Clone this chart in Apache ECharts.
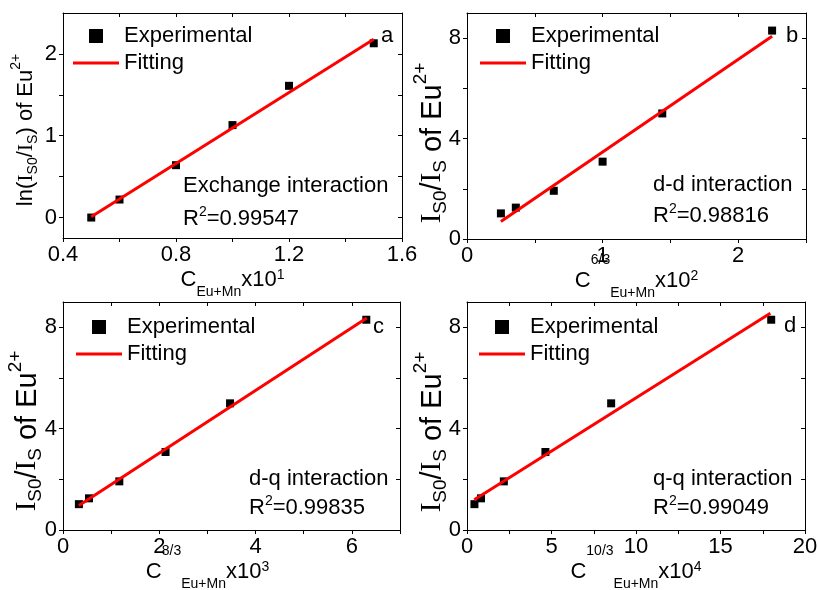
<!DOCTYPE html>
<html>
<head>
<meta charset="utf-8">
<script src="https://cdn.jsdelivr.net/npm/echarts@6/dist/echarts.min.js"></script>
<style>
  html, body { margin: 0; padding: 0; background: #fff; }
  #chart { width: 818px; height: 590px; }
</style>
</head>
<body>
<div id="chart"></div>
<script>
// x values of the experimental points, one list per panel
const concA = [0.5, 0.6, 0.8, 1.0, 1.2, 1.5];
const concB = [0.25, 0.36, 0.64, 1.0, 1.44, 2.25];
const concC = [0.33, 0.54, 1.17, 2.13, 3.47, 6.3];
const concD = [0.44, 0.83, 2.18, 4.64, 8.53, 18.0];
// y values
const lnRatio = [0.0, 0.22, 0.64, 1.13, 1.61, 2.13];
const ratio = [1.02, 1.25, 1.92, 3.08, 5.0, 8.3];
// end points of the fitted lines
const fitA = [[0.5, 0.01], [1.5, 2.18]];
const fitB = [[0.25, 0.7], [2.25, 8.07]];
const fitC = [[0.33, 0.97], [6.31, 8.37]];
const fitD = [[0.43, 1.19], [17.95, 8.56]];
// ticks and tick labels
const ticksXA = [0.4, 0.6, 0.8, 1.0, 1.2, 1.4, 1.6];
const labelsXA = [0.4, 0.8, 1.2, 1.6];
const ticksYA = [0, 0.5, 1, 1.5, 2];
const labelsYA = [0, 1, 2];
const ticksXB = [0, 0.5, 1, 1.5, 2, 2.5];
const labelsXB = [0, 1, 2];
const ticksXC = [0, 1, 2, 3, 4, 5, 6, 7];
const labelsXC = [0, 2, 4, 6];
const ticksXD = [0, 2.5, 5, 7.5, 10, 12.5, 15, 17.5, 20];
const labelsXD = [0, 5, 10, 15, 20];
const ticksY = [0, 2, 4, 6, 8];
const labelsY = [0, 4, 8];

const FONT = 'Liberation Sans, Arial, sans-serif';
const SERIF = 'Liberation Serif, Times New Roman, serif';

// every token gets the same box height through its padding,
// so the vertical offset of sub/superscripts comes from the padding alone
function tok(size, family, padTop, boxH) {
  return {
    fontSize: size, fontFamily: family, color: '#000',
    padding: [padTop, 0, boxH - size - padTop, 0]
  };
}

// x axis titles: C, superscript, subscript, x10^n
const richX = {
  m: tok(22, FONT, 19, 60),
  sup: tok(14, FONT, 2, 60),
  sub: tok(14, FONT, 35, 60),
  p: tok(14, FONT, 18, 60)
};
// y axis title of panel a
const richYA = {
  m: tok(22, FONT, 11, 44),
  i: tok(22, SERIF, 11, 44),
  s: tok(14, FONT, 22, 44),
  e: tok(14, FONT, 5, 44)
};
// y axis titles of panels b, c, d (drawn larger in the original)
const richY = {
  m: tok(29, FONT, 13, 55),
  i: tok(29, SERIF, 13, 55),
  s: tok(19, FONT, 26, 55),
  e: tok(19, FONT, 6, 55)
};

const panels = [
  {
    grid: { left: 63, top: 13, width: 339, height: 225 },
    xRange: [0.4, 1.6], yRange: [-0.25, 2.5],
    xTicks: ticksXA, xLabels: labelsXA, yTicks: ticksYA, yLabels: labelsYA,
    xName: '{m|C}{sub|Eu+Mn}{m|x10}{p|1}',
    yName: '{m|ln(}{i|I}{s|S0}{m|/}{i|I}{s|S}{m|) of Eu}{e|2+}',
    yRich: richYA, yGap: 15, yShift: 9, xShift: 0,
    x: concA, y: lnRatio, fit: fitA,
    letter: ['a', 381, 36], kind: ['Exchange interaction', 183, 186], r2: ['0.99547', 183, 219],
    legend: [73, 24]
  },
  {
    grid: { left: 467, top: 13, width: 339, height: 226 },
    xRange: [0, 2.5], yRange: [0, 9],
    xTicks: ticksXB, xLabels: labelsXB, yTicks: ticksY, yLabels: labelsY,
    xName: '{m|C}{sup|6/3}{sub|Eu+Mn}{m|x10}{p|2}',
    yName: '{i|I}{s|S0}{m|/}{i|I}{s|S}{m| of Eu}{e|2+}',
    yRich: richY, yGap: 7, yShift: 34, xShift: 0,
    x: concB, y: ratio, fit: fitB,
    letter: ['b', 786, 36], kind: ['d-d interaction', 653, 185], r2: ['0.98816', 653, 216],
    legend: [480, 24]
  },
  {
    grid: { left: 63, top: 302, width: 337, height: 228 },
    xRange: [0, 7], yRange: [0, 9],
    xTicks: ticksXC, xLabels: labelsXC, yTicks: ticksY, yLabels: labelsY,
    xName: '{m|C}{sup|8/3}{sub|Eu+Mn}{m|x10}{p|3}',
    yName: '{i|I}{s|S0}{m|/}{i|I}{s|S}{m| of Eu}{e|2+}',
    yRich: richY, yGap: 8, yShift: 30, xShift: 48,
    x: concC, y: ratio, fit: fitC,
    letter: ['c', 373, 327], kind: ['d-q interaction', 249, 479], r2: ['0.99835', 249, 508],
    legend: [76, 315]
  },
  {
    grid: { left: 467, top: 302, width: 338, height: 228 },
    xRange: [0, 20], yRange: [0, 9],
    xTicks: ticksXD, xLabels: labelsXD, yTicks: ticksY, yLabels: labelsY,
    xName: '{m|C}{sup|10/3}{sub|Eu+Mn}{m|x10}{p|4}',
    yName: '{i|I}{s|S0}{m|/}{i|I}{s|S}{m| of Eu}{e|2+}',
    yRich: richY, yGap: 7, yShift: 32, xShift: 0,
    x: concD, y: ratio, fit: fitD,
    letter: ['d', 784, 326], kind: ['q-q interaction', 653, 479], r2: ['0.99049', 653, 508],
    legend: [479, 315]
  }
];

const lineStyle = { color: '#000', width: 1 };

function frameAxis(i, pos, range, ticks, labels, extra) {
  const outer = pos === 'bottom' || pos === 'left';
  return Object.assign({
    gridIndex: i,
    type: 'value',
    position: pos,
    min: range[0],
    max: range[1],
    axisLine: { show: true, onZero: false, lineStyle: lineStyle },
    axisTick: { show: true, inside: !outer, length: 4, customValues: ticks, lineStyle: lineStyle },
    axisLabel: outer
      ? { show: true, customValues: labels, color: '#000', fontSize: 22, fontFamily: FONT, margin: 6 }
      : { show: false },
    splitLine: { show: false }
  }, extra || {});
}

const xAxis = [], yAxis = [], grid = [], series = [], legend = [], graphic = [];

panels.forEach((p, i) => {
  grid.push(Object.assign({ outerBoundsMode: 'none' }, p.grid));
  xAxis.push(frameAxis(i, 'bottom', p.xRange, p.xTicks, p.xLabels, {
    name: p.xName, nameLocation: 'middle', nameGap: 12, nameMoveOverlap: false,
    nameTextStyle: { rich: richX, padding: [0, p.xShift, 0, 0] }
  }));
  xAxis.push(frameAxis(i, 'top', p.xRange, p.xTicks, p.xLabels));
  yAxis.push(frameAxis(i, 'left', p.yRange, p.yTicks, p.yLabels, {
    name: p.yName, nameLocation: 'middle', nameGap: p.yGap, nameRotate: 90, nameMoveOverlap: false,
    nameTextStyle: { rich: p.yRich, padding: [0, p.yShift, 0, 0] }
  }));
  yAxis.push(frameAxis(i, 'right', p.yRange, p.yTicks, p.yLabels));

  series.push({
    name: 'Experimental',
    type: 'scatter',
    xAxisIndex: 2 * i,
    yAxisIndex: 2 * i,
    symbol: 'rect',
    symbolSize: 8,
    itemStyle: { color: '#000', opacity: 1 },
    data: p.x.map((v, k) => [v, p.y[k]]),
    z: 2
  });
  series.push({
    name: 'Fitting',
    type: 'line',
    xAxisIndex: 2 * i,
    yAxisIndex: 2 * i,
    symbol: 'none',
    lineStyle: { color: '#ff0000', width: 3 },
    itemStyle: { color: '#ff0000' },
    data: p.fit,
    z: 3
  });

  legend.push({
    left: p.legend[0],
    top: p.legend[1],
    orient: 'vertical',
    padding: 0,
    itemWidth: 46,
    itemHeight: 14,
    itemGap: 3,
    selectedMode: false,
    textStyle: { fontSize: 22, fontFamily: FONT, color: '#000', lineHeight: 24 },
    data: [
      { name: 'Experimental', icon: 'path://M0,0H10V10H0Z', itemStyle: { color: '#000', opacity: 1 } },
      { name: 'Fitting', icon: 'path://M0,0H46V3H0Z', itemStyle: { color: '#ff0000' } }
    ]
  });

  const txt = { fontSize: 22, fontFamily: FONT, fill: '#000', verticalAlign: 'middle' };
  graphic.push({ type: 'text', x: p.letter[1], y: p.letter[2], style: Object.assign({ text: p.letter[0] }, txt) });
  graphic.push({ type: 'text', x: p.kind[1], y: p.kind[2], style: Object.assign({ text: p.kind[0] }, txt) });
  graphic.push({
    type: 'text', x: p.r2[1], y: p.r2[2],
    style: Object.assign({
      text: '{m|R}{p|2}{m|=' + p.r2[0] + '}',
      rich: {
        m: { fontSize: 22, fontFamily: FONT, fill: '#000', padding: [7, 0, 7, 0] },
        p: { fontSize: 14, fontFamily: FONT, fill: '#000', padding: [4, 0, 18, 0] }
      }
    }, txt)
  });
});

const chart = echarts.init(document.getElementById('chart'), null, { renderer: 'canvas' });
chart.setOption({
  animation: false,
  backgroundColor: '#fff',
  grid: grid,
  xAxis: xAxis,
  yAxis: yAxis,
  legend: legend,
  series: series,
  graphic: graphic
});
</script>
</body>
</html>
